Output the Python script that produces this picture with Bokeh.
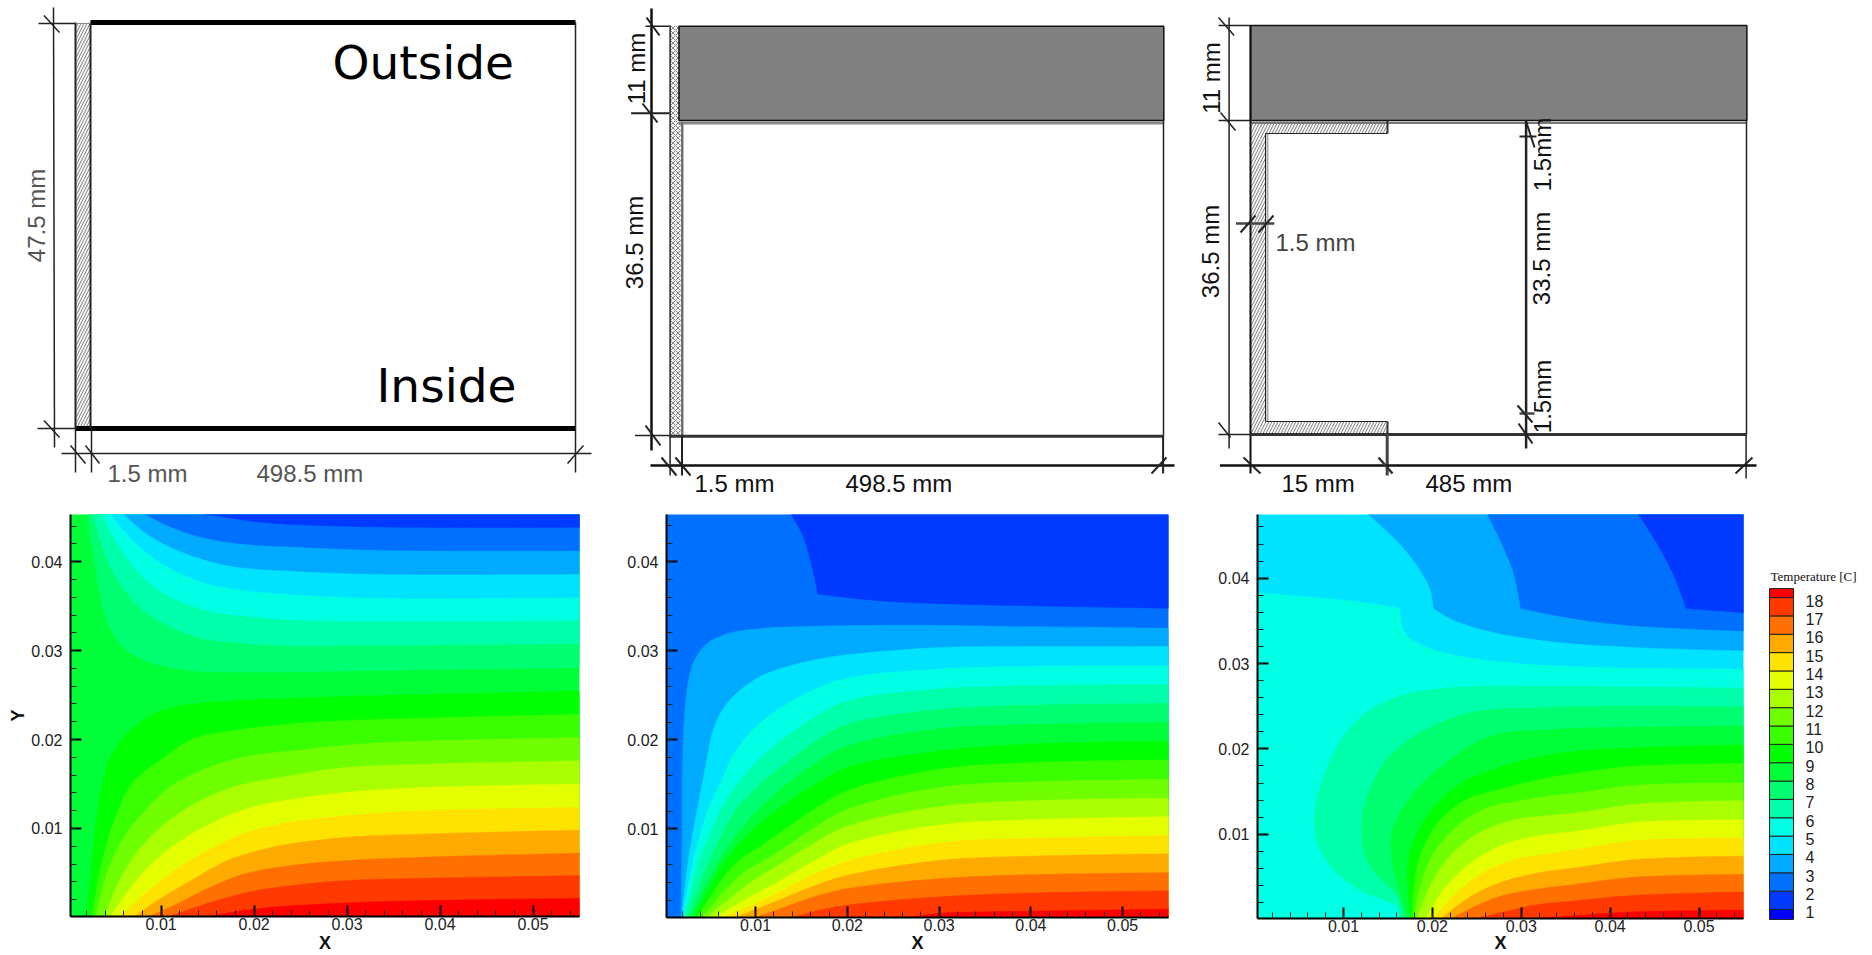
from math import pi, hypot
from bokeh.plotting import figure
from bokeh.layouts import row, column
from bokeh.models import Range1d, FixedTicker, ColumnDataSource
from bokeh.core.properties import value
from bokeh.embed import file_html
from bokeh.resources import INLINE

# ---------- colour bands: band_colors[n] fills temperatures from n to n+1 ----------
band_colors = ["#0000ff", "#0039ff", "#0070ff", "#00aaff", "#00e3ff", "#00ffe3", "#00ffaa",
               "#00ff70", "#00ff39", "#00ff00", "#39ff00", "#70ff00", "#aaff00", "#e3ff00",
               "#ffe300", "#ffaa00", "#ff7000", "#ff3900", "#ff0000"]
legend_levels = list(range(1, 19))
legend_title = "Temperature [C]"

x_major = [0.01, 0.02, 0.03, 0.04, 0.05]
x_labels = ["0.01", "0.02", "0.03", "0.04", "0.05"]
y_major = [0.01, 0.02, 0.03, 0.04]
y_labels = ["0.01", "0.02", "0.03", "0.04"]
x_minor = [i * 0.002 for i in range(1, 28)]
y_minor = [i * 0.002 for i in range(1, 24)]

# ---------- panel 1, isotherms in mm ----------
p1_l2_x = [14.62, 16.95, 19.82, 23.4, 33.9, 55]
p1_l2_y = [45.3, 45.0, 44.53, 44.23, 43.9, 43.86]
p1_l3_x = [8.35, 10.5, 13.37, 16.6, 19.82, 23.4, 33.9, 55]
p1_l3_y = [45.3, 44.15, 43.03, 42.28, 41.9, 41.72, 41.3, 41.24]
p1_l4_x = [6.02, 8.35, 10.86, 14.08, 17.67, 23.4, 33.9, 55]
p1_l4_y = [45.3, 43.22, 41.72, 40.41, 39.48, 38.99, 38.6, 38.62]
p1_l5_x = [4.58, 6.56, 8.7, 11.57, 14.8, 18.38, 23.4, 33.9, 55]
p1_l5_y = [45.3, 42.84, 40.79, 38.92, 37.6, 36.86, 36.37, 35.9, 36.0]
p1_l6_x = [3.62, 4.94, 6.56, 8.7, 11.57, 15.16, 19.1, 23.4, 33.9, 55]
p1_l6_y = [45.3, 42.66, 40.04, 37.6, 35.74, 34.43, 33.87, 33.49, 33.3, 33.38]
p1_l7_x = [2.68, 3.51, 4.58, 6.02, 7.99, 10.5, 14.08, 18.38, 23.4, 33.9, 55]
p1_l7_y = [45.3, 42.28, 39.29, 36.86, 34.61, 32.93, 31.43, 30.87, 30.57, 30.6, 30.76]
p1_l8_x = [2.07, 2.43, 2.97, 3.51, 4.2, 5.12, 6.38, 8.35, 11.2, 13.7, 21.5, 33.9, 55]
p1_l8_y = [45.3, 42.66, 38.92, 35.93, 33.31, 31.44, 29.94, 28.82, 28.07, 27.7, 27.58, 27.77, 28.07]
p1_l9_x = [1.97, 2.43, 2.97, 3.69, 4.4, 6.3, 9.18, 12.06, 17.41, 25.64, 33.87, 55]
p1_l9_y = [0.1, 5.0, 10.24, 15.1, 17.72, 20.59, 22.83, 23.77, 24.33, 24.7, 24.96, 25.45]
p1_l10_x = [2.54, 3.69, 5.12, 6.91, 9.96, 13.29, 17.41, 25.64, 33.87, 55]
p1_l10_y = [0.1, 6.5, 11.36, 15.1, 17.72, 20.03, 20.96, 21.9, 22.27, 22.83]
p1_l11_x = [2.97, 4.2, 5.84, 8.35, 11.57, 17.67, 25.64, 33.87, 55]
p1_l11_y = [0.1, 5.0, 8.74, 12.11, 15.1, 17.72, 18.9, 19.65, 20.21]
p1_l12_x = [3.87, 5.48, 7.63, 10.5, 14.08, 18.03, 23.4, 29.75, 37.98, 55]
p1_l12_y = [0.1, 4.07, 7.62, 10.61, 13.04, 14.73, 15.85, 16.85, 17.22, 17.6]
p1_l13_x = [4.58, 6.56, 9.06, 12.29, 15.9, 19.46, 23.4, 29.75, 37.98, 55]
p1_l13_y = [0.1, 3.13, 6.12, 8.74, 10.8, 12.3, 13.16, 14.04, 14.6, 14.98]
p1_l14_x = [5.66, 8.35, 11.57, 15.16, 19.1, 23.4, 29.75, 37.98, 55]
p1_l14_y = [0.1, 2.76, 5.37, 7.62, 9.49, 10.61, 11.42, 11.98, 12.36]
p1_l15_x = [7.09, 9.78, 13.4, 16.95, 20.17, 23.4, 29.75, 37.98, 55]
p1_l15_y = [0.1, 2.0, 4.25, 6.31, 7.43, 8.18, 8.99, 9.36, 9.81]
p1_l16_x = [8.7, 11.93, 15.16, 18.74, 23.4, 29.75, 37.98, 55]
p1_l16_y = [0.1, 1.63, 3.32, 4.81, 5.75, 6.37, 6.75, 7.23]
p1_l17_x = [10.86, 14.08, 17.67, 20.9, 23.4, 29.75, 37.98, 55]
p1_l17_y = [0.1, 1.26, 2.38, 3.13, 3.5, 4.13, 4.39, 4.69]
p1_l18_x = [15.16, 18.38, 21.25, 23.4, 29.75, 37.98, 55]
p1_l18_y = [0.1, 0.7, 1.07, 1.26, 1.62, 1.88, 2.14]

# ---------- panel 2, isotherms in mm ----------
p2_l2_x = [13.89, 15.07, 16.07, 16.78, 19.83, 24.99, 32.91, 38.86, 55]
p2_l2_y = [45.28, 43.12, 39.78, 36.36, 35.98, 35.5, 35.2, 35.06, 34.76]
p2_l3_x = [1.87, 2.0, 2.07, 2.59, 3.38, 4.77, 7.15, 9.92, 15.07, 26.97, 38.86, 55]
p2_l3_y = [0.07, 10.0, 18.96, 26.02, 29.0, 30.85, 31.97, 32.42, 32.71, 32.86, 32.71, 32.53]
p2_l4_x = [1.94, 2.7, 3.79, 4.7, 5.3, 6.3, 8.0, 10.32, 12.73, 16.36, 20, 30, 40, 55]
p2_l4_y = [0.07, 6.69, 13.01, 17.84, 20.82, 23.2, 25.3, 27.0, 28.0, 28.95, 29.54, 30.35, 30.47, 30.47]
p2_l5_x = [2.08, 3.25, 4.88, 6.52, 7.3, 8.73, 10.71, 12.73, 16.36, 20, 30, 40, 55]
p2_l5_y = [0.07, 6.69, 12.26, 15.98, 17.84, 20.0, 22.1, 23.58, 25.63, 26.93, 27.94, 28.23, 28.31]
p2_l6_x = [2.23, 3.97, 6.52, 8.33, 10.0, 12.73, 16.36, 20, 30, 40, 55]
p2_l6_y = [0.07, 6.69, 12.64, 15.4, 17.4, 19.86, 22.47, 24.33, 25.7, 26.08, 26.19]
p2_l7_x = [2.52, 5.06, 7.97, 10.5, 12.73, 16.36, 20, 30, 40, 55]
p2_l7_y = [0.07, 6.69, 12.26, 15.0, 16.89, 19.68, 21.72, 23.4, 23.88, 24.07]
p2_l8_x = [2.88, 6.15, 9.42, 12.73, 16.36, 20, 30, 40, 55]
p2_l8_y = [0.07, 6.69, 11.2, 14.47, 17.26, 19.31, 21.24, 21.72, 21.98]
p2_l9_x = [3.25, 6.88, 10.0, 12.73, 16.36, 20, 30, 40, 55]
p2_l9_y = [0.07, 6.69, 10.2, 12.42, 14.92, 16.89, 18.75, 19.53, 19.86]
p2_l10_x = [3.61, 7.61, 10.88, 12.73, 16.36, 20, 30, 40, 55]
p2_l10_y = [0.07, 5.94, 8.3, 9.63, 12.2, 14.3, 16.7, 17.45, 17.74]
p2_l11_x = [4.15, 8.33, 11.0, 12.73, 16.36, 20, 30, 40, 55]
p2_l11_y = [0.07, 4.83, 6.5, 7.59, 10.1, 12.2, 14.65, 15.29, 15.58]
p2_l12_x = [4.7, 9.06, 12.73, 16.36, 20, 30, 40, 55]
p2_l12_y = [0.07, 3.71, 6.1, 8.4, 10.3, 12.5, 13.17, 13.46]
p2_l13_x = [5.43, 10.15, 12.73, 16.36, 20, 30, 40, 55]
p2_l13_y = [0.07, 2.8, 4.24, 6.4, 8.3, 10.45, 11.05, 11.38]
p2_l14_x = [6.52, 11.24, 12.73, 16.36, 20, 30, 40, 55]
p2_l14_y = [0.07, 2.2, 3.0, 4.9, 6.4, 8.44, 8.96, 9.26]
p2_l15_x = [7.79, 12.73, 16.36, 20, 30, 40, 55]
p2_l15_y = [0.07, 2.1, 3.6, 4.8, 6.47, 6.95, 7.21]
p2_l16_x = [9.97, 12.73, 16.36, 20, 30, 40, 55]
p2_l16_y = [0.07, 1.08, 2.38, 3.31, 4.42, 4.87, 5.09]
p2_l17_x = [13.89, 16.36, 20, 30, 40, 55]
p2_l17_y = [0.03, 0.75, 1.45, 2.38, 2.82, 3.05]
p2_l18_x = [26.5, 30, 40, 55]
p2_l18_y = [0.03, 0.52, 0.78, 1.0]

# ---------- panel 3, isotherms in mm ----------
p3_l2_x = [43.18, 45.28, 47.15, 48.55, 55]
p3_l2_y = [47.47, 44.05, 40.35, 36.47, 35.96]
p3_l3_x = [26.21, 27.99, 29.16, 29.95, 33.6, 38.27, 42.94, 55]
p3_l3_y = [47.47, 43.66, 40.55, 36.47, 35.69, 34.91, 34.41, 33.82]
p3_l4_x = [12.8, 16.31, 18.64, 19.81, 20.14, 22.38, 26.59, 33.6, 42.94, 55]
p3_l4_y = [47.47, 44.05, 40.94, 38.6, 36.47, 35.11, 33.75, 32.58, 31.92, 31.53]
p3_l5_x = [0.33, 5.56, 11.64, 16.31, 16.54, 17.24, 19.58, 23.32, 28.93, 38.27, 55]
p3_l5_y = [38.29, 37.83, 37.24, 36.47, 34.33, 33.16, 31.8, 30.83, 30.05, 29.55, 29.35]
p3_l6_x = [16.37, 16.07, 14.2, 11.95, 8.83, 7.2, 6.73, 7.43, 9.77, 12.57, 16.31, 21.92, 33.6, 55]
p3_l6_y = [0.2, 1.68, 2.46, 3.43, 5.96, 8.68, 11.4, 15.67, 21.12, 24.22, 26.17, 27.14, 27.33, 27.1]
p3_l7_x = [16.64, 16.26, 12.71, 12.06, 12.57, 14.91, 18.64, 24.25, 31.26, 42.94, 55]
p3_l7_y = [0.2, 2.46, 6.74, 11.01, 14.12, 18.78, 21.89, 24.22, 24.81, 25.0, 24.92]
p3_l8_x = [17.2, 16.07, 15.33, 15.7, 17.94, 22.06, 26.59, 33.6, 42.94, 55]
p3_l8_y = [0.2, 4.01, 8.29, 11.0, 14.9, 18.78, 21.5, 22.28, 22.55, 22.67]
p3_l9_x = [17.57, 17.19, 17.57, 19.44, 22.81, 26.93, 33.6, 42.94, 55]
p3_l9_y = [0.2, 5.18, 8.29, 12.17, 15.67, 17.61, 19.37, 20.14, 20.45]
p3_l10_x = [17.76, 17.87, 18.5, 20.38, 23.56, 27.68, 32.17, 36.67, 42.94, 55]
p3_l10_y = [0.2, 3.23, 7.12, 11.01, 13.92, 15.28, 16.45, 17.23, 18.0, 18.28]
p3_l11_x = [17.94, 18.69, 20.0, 22.44, 25.81, 29.93, 33.3, 36.67, 42.94, 55]
p3_l11_y = [0.2, 4.01, 7.51, 10.62, 12.95, 13.92, 14.5, 14.89, 15.75, 15.99]
p3_l12_x = [18.32, 19.8, 22.06, 25.06, 28.8, 32.92, 36.67, 42.94, 55]
p3_l12_y = [0.2, 4.01, 7.51, 10.03, 11.59, 12.17, 12.56, 13.54, 13.93]
p3_l13_x = [19.25, 21.31, 23.94, 27.3, 31.05, 36.67, 42.94, 55]
p3_l13_y = [0.2, 3.62, 6.34, 8.48, 9.65, 10.42, 11.4, 11.71]
p3_l14_x = [20.19, 22.81, 25.81, 29.55, 32.92, 36.67, 42.94, 55]
p3_l14_y = [0.2, 3.23, 5.57, 7.12, 7.7, 8.29, 9.26, 9.57]
p3_l15_x = [21.13, 23.94, 27.3, 31.43, 36.67, 42.94, 55]
p3_l15_y = [0.2, 2.46, 4.21, 5.37, 6.15, 7.05, 7.43]
p3_l16_x = [22.25, 25.06, 28.05, 32.17, 36.67, 42.94, 55]
p3_l16_y = [0.2, 1.68, 2.85, 3.62, 4.21, 4.99, 5.3]
p3_l17_x = [25.06, 28.05, 31.43, 36.67, 42.94, 55]
p3_l17_y = [0.2, 0.9, 1.68, 2.26, 2.85, 3.24]
p3_l18_x = [31.43, 34.42, 36.67, 42.94, 55]
p3_l18_y = [0.2, 0.32, 0.51, 0.91, 1.1]

# indices of the points where an isotherm has a real corner
sharp_points = {("p2", 2): [3], ("p3", 2): [3], ("p3", 3): [3], ("p3", 4): [4], ("p3", 5): [3, 4],
                ("p3", 6): [1]}

# ---------- schematics: (x0, y0, x1, y1, width, colour) in drawing units ----------
INK = "#222222"
sch1_lines = [
    (90, 22, 575, 22, 5, "#000000"), (75, 428, 575, 428, 5, "#000000"),
    (75, 22, 75, 428, 2, "#222222"), (90, 22, 90, 428, 2, "#222222"),
    (75, 23, 90, 23, 1, "#888888"), (575, 22, 575, 428, 1.5, INK),
    (53, 7, 54, 447, 1.5, INK), (38, 23, 75, 23, 1.5, INK), (37, 428, 75, 428, 1.5, INK),
    (43.5, 15, 59, 32, 1.5, INK), (43.5, 420, 59, 437, 1.5, INK),
    (61, 453, 591, 453, 1.5, INK), (75, 428, 75, 472, 1.5, INK), (91, 428, 91, 472, 1.5, INK),
    (575, 428, 575, 472, 1.5, INK), (70, 445, 85, 463, 1.5, INK), (85, 445, 99, 463, 1.5, INK),
    (567, 463, 583, 445, 1.5, INK),
]
sch1_texts = [("1.5 mm", 107, 473), ("498.5 mm", 256, 473)]
sch1_rot = [("47.5 mm", 36, 215)]
sch1_big = [("Outside", 332, 62), ("Inside", 376, 385)]

sch2_lines = [
    (682.5, 122, 682.5, 435, 2, "#bbbbbb"), (678, 122.5, 1163, 122.5, 3, "#888888"),
    (669.6, 25, 669.6, 435, 1.5, INK), (681.5, 122, 681.5, 435, 1.5, "#555555"),
    (1163, 120, 1163, 435, 1.5, INK), (669, 435.7, 1163, 435.7, 3, "#333333"),
    (651, 8, 651, 450, 2.5, "#111111"), (645, 25.7, 669, 25.7, 1.5, INK),
    (630.6, 112.7, 669, 112.7, 2, INK), (634.4, 435, 669, 435, 1.5, INK),
    (646, 17, 659, 35, 2, INK), (642, 103, 657, 122, 2, INK), (645, 425, 660, 445, 2, INK),
    (650, 465, 1174, 465, 2.5, "#111111"), (669.6, 435, 669.6, 475, 1.5, INK),
    (681.5, 435, 681.5, 475, 2, INK), (1162.6, 435, 1162.6, 473, 2, INK),
    (661, 457, 676, 475, 2, INK), (675, 457, 690, 475, 2, INK), (1151, 473, 1166, 457, 2, INK),
]
sch2_texts = [("1.5 mm", 694, 483), ("498.5 mm", 845, 483)]
sch2_rot = [("11 mm", 636, 68), ("36.5 mm", 634, 242)]

sch3_lines = [
    (1250, 122.5, 1746, 122.5, 2, "#777777"), (1267, 133, 1267, 421, 2, "#aaaaaa"),
    (1250, 25, 1250, 473, 2, "#111111"), (1746, 120, 1746, 434, 1.5, INK),
    (1250, 434, 1746, 434, 3, "#333333"), (1265, 133, 1387, 133, 1, INK),
    (1265, 421, 1387, 421, 1, INK), (1265, 133, 1265, 421, 1, INK),
    (1387, 120, 1387, 133, 2, "#333333"), (1387, 421, 1387, 434, 2, "#333333"),
    (1228.6, 17, 1228.6, 448, 1.5, INK), (1218, 25, 1250, 25, 1.5, INK),
    (1218, 120, 1250, 120, 1.5, INK), (1218, 434, 1250, 434, 1.5, INK),
    (1218, 17, 1233.6, 35, 1.5, INK), (1220, 112, 1235, 130, 1.5, INK), (1218, 422, 1230, 437, 1.5, INK),
    (1386.7, 434, 1386.7, 475, 3, "#444444"), (1745.6, 434, 1745.6, 478, 1.5, INK),
    (1219.4, 465, 1756, 465, 2.5, "#111111"), (1243, 457, 1260, 473, 2, INK),
    (1378, 457, 1392, 473, 2.5, "#333333"), (1735, 473, 1752, 457, 2, INK),
    (1525.6, 120, 1525.6, 448, 2.5, INK), (1519, 136, 1536, 136, 2, INK), (1526, 122, 1534, 147, 2, INK),
    (1519, 413, 1534, 413, 2.5, "#444444"), (1517, 405, 1532, 422, 2, INK), (1518, 423, 1532, 443, 2, INK),
    (1235.5, 223, 1273.8, 223, 2.5, "#444444"), (1240, 232, 1255, 215, 2, INK), (1258, 232, 1273, 215, 2, INK),
]
sch3_texts = [("15 mm", 1281, 483), ("485 mm", 1425, 483)]
sch3_thin = [("1.5 mm", 1275, 242)]
sch3_rot = [("11 mm", 1210.6, 77.5), ("36.5 mm", 1210, 251), ("1.5mm", 1541.6, 154),
            ("33.5 mm", 1541, 258), ("1.5mm", 1541.6, 396)]

c3_x = [1250, 1387, 1387, 1265, 1265, 1387, 1387, 1250]
c3_y = [120, 120, 133, 133, 421, 421, 434, 434]

# ---------- page cells ----------
TOP_H, BOT_H = 500, 455
CELL_X = [0, 610, 1195, 1756, 1872]
SANS, SERIF, WIDE = "Liberation Sans", "Liberation Serif", "DejaVu Sans"
NUM = "16px"


def sketch(x0, x1):
    p = figure(width=x1 - x0, height=TOP_H, x_range=Range1d(x0, x1), y_range=Range1d(TOP_H, 0),
               x_axis_location=None, y_axis_location=None, toolbar_location=None,
               output_backend="svg", min_border=0, outline_line_color=None)
    p.grid.visible = False
    return p


def put_lines(p, rows):
    c = list(zip(*rows))
    src = ColumnDataSource(dict(x0=c[0], y0=c[1], x1=c[2], y1=c[3], w=c[4], col=c[5]))
    p.segment("x0", "y0", "x1", "y1", line_width="w", line_color="col", source=src)


def put_text(p, rows, size="24px", color="#111111", angle=0.0, align="left", font=SANS):
    c = list(zip(*rows))
    p.text(list(c[1]), list(c[2]), text=list(c[0]), text_font=value(font), text_font_size=value(size),
           text_color=color, angle=angle, text_align=align, text_baseline="middle")


s1 = sketch(CELL_X[0], CELL_X[1])
s1.quad(left=[76], right=[89.5], top=[23], bottom=[426], fill_color="#f4f4f4", line_color=None,
        hatch_pattern="right_diagonal_line", hatch_color="#888888", hatch_scale=6, hatch_weight=1)
put_lines(s1, sch1_lines)
put_text(s1, sch1_texts, color="#555555")
put_text(s1, sch1_rot, color="#555555", angle=pi / 2, align="center")
put_text(s1, sch1_big, size="47px", color="#000000", font=WIDE)

s2 = sketch(CELL_X[1], CELL_X[2])
s2.quad(left=[670, 670], right=[678.5, 681.5], top=[25, 122], bottom=[122, 435], fill_color="#f4f4f4",
        line_color=None, hatch_pattern="diagonal_cross", hatch_color="#888888", hatch_scale=5, hatch_weight=1)
s2.quad(left=[678.5], right=[1163.3], top=[25.7], bottom=[120], fill_color="#808080", line_color="#111111",
        line_width=1.5)
put_lines(s2, sch2_lines)
put_text(s2, sch2_texts)
put_text(s2, sch2_rot, angle=pi / 2, align="center")

s3 = sketch(CELL_X[2], CELL_X[4])
s3.patch(c3_x, c3_y, fill_color="#f4f4f4", line_color=None, hatch_pattern="right_diagonal_line",
         hatch_color="#888888", hatch_scale=6, hatch_weight=1)
s3.quad(left=[1250], right=[1746.4], top=[25], bottom=[120], fill_color="#808080", line_color="#111111",
        line_width=1.5)
put_lines(s3, sch3_lines)
put_text(s3, sch3_texts)
put_text(s3, sch3_thin, color="#444444")
put_text(s3, sch3_rot, angle=pi / 2, align="center")


def curve_piece(xs, ys, steps=10):
    """Draw a read isotherm as a centripetal spline through its read points."""
    pts = list(zip(xs, ys))
    if len(pts) < 3:
        return list(xs), list(ys)
    pts = [pts[0]] + pts + [pts[-1]]
    ox, oy = [], []
    for i in range(1, len(pts) - 2):
        p0, p1, p2, p3 = pts[i - 1], pts[i], pts[i + 1], pts[i + 2]
        t0 = 0.0
        t1 = t0 + max(hypot(p1[0] - p0[0], p1[1] - p0[1]) ** 0.5, 1e-6)
        t2 = t1 + max(hypot(p2[0] - p1[0], p2[1] - p1[1]) ** 0.5, 1e-6)
        t3 = t2 + max(hypot(p3[0] - p2[0], p3[1] - p2[1]) ** 0.5, 1e-6)
        for k in range(steps):
            t = t1 + (t2 - t1) * k / steps
            out = []
            for d in (0, 1):
                a1 = ((t1 - t) * p0[d] + (t - t0) * p1[d]) / (t1 - t0)
                a2 = ((t2 - t) * p1[d] + (t - t1) * p2[d]) / (t2 - t1)
                a3 = ((t3 - t) * p2[d] + (t - t2) * p3[d]) / (t3 - t2)
                b1 = ((t2 - t) * a1 + (t - t0) * a2) / (t2 - t0)
                b2 = ((t3 - t) * a2 + (t - t1) * a3) / (t3 - t1)
                out.append(((t2 - t) * b1 + (t - t1) * b2) / (t2 - t1))
            ox.append(out[0])
            oy.append(out[1])
    ox.append(xs[-1])
    oy.append(ys[-1])
    return ox, oy


def curve(tag, lv):
    xs, ys = globals()[f"{tag}_l{lv}_x"], globals()[f"{tag}_l{lv}_y"]
    cuts = [0] + sharp_points.get((tag, lv), []) + [len(xs) - 1]
    ox, oy = [], []
    for a, b in zip(cuts[:-1], cuts[1:]):
        px, py = curve_piece(xs[a:b + 1], ys[a:b + 1])
        ox += px
        oy += py
    return ox, oy


def panel(tag, cell, borders, xr, yr, base, upper, lower, left_start=(), x_stand=-5, y_label=None):
    left, right, top, bottom = borders
    p = figure(width=CELL_X[cell + 1] - CELL_X[cell], height=BOT_H, x_range=Range1d(*xr), y_range=Range1d(*yr),
               toolbar_location=None, output_backend="svg", min_border_left=left, min_border_right=right,
               min_border_top=top, min_border_bottom=bottom, outline_line_color=None,
               background_fill_color=band_colors[base])
    p.grid.visible = False
    for lv in upper:
        xs, ys = curve(tag, lv)
        px = xs + [60, 60, xs[0]]
        py = ys + [ys[-1], 60, 60]
        p.patch([v / 1000 for v in px], [v / 1000 for v in py], fill_color=band_colors[lv - 1],
                line_color=band_colors[lv - 1], line_width=0.5)
    for lv in lower:
        xs, ys = curve(tag, lv)
        if lv in left_start:
            px = xs + [60, 60, -5, -5]
            py = ys + [ys[-1], -5, -5, ys[0]]
        else:
            px = xs + [60, 60, xs[0]]
            py = ys + [ys[-1], -5, -5]
        p.patch([v / 1000 for v in px], [v / 1000 for v in py], fill_color=band_colors[lv],
                line_color=band_colors[lv], line_width=0.5)
    for ax, maj, lab, mnr, stand in ((p.xaxis[0], x_major, x_labels, x_minor, 1),
                                     (p.yaxis[0], y_major, y_labels, y_minor, 8)):
        ax.ticker = FixedTicker(ticks=maj, minor_ticks=mnr)
        ax.major_label_overrides = dict(zip(maj, lab))
        ax.axis_line_color = "#000000"
        ax.axis_line_width = 2
        ax.major_tick_in = 11
        ax.major_tick_out = 0
        ax.minor_tick_in = 6
        ax.minor_tick_out = 0
        ax.major_tick_line_width = 2
        ax.major_tick_line_color = "#000000"
        ax.minor_tick_line_width = 1
        ax.minor_tick_line_color = "#222222"
        ax.major_label_text_font = SANS
        ax.major_label_text_font_size = NUM
        ax.major_label_text_color = "#222222"
        ax.major_label_standoff = stand
        ax.axis_label_text_font = SANS
        ax.axis_label_text_font_size = "18px"
        ax.axis_label_text_font_style = "bold"
        ax.axis_label_text_color = "#111111"
    p.xaxis[0].axis_label = "X"
    p.xaxis[0].axis_label_standoff = x_stand
    p.xaxis[0].axis_label_text_line_height = 0.6
    if y_label:
        p.yaxis[0].axis_label = y_label
        p.yaxis[0].axis_label_standoff = 0
    return p


c1 = panel("p1", 0, (70, 31, 14, 38), (0.00025, 0.055), (0.0001, 0.0453), 8,
           [8, 7, 6, 5, 4, 3, 2], list(range(9, 19)), x_stand=0, y_label="Y")
c2 = panel("p2", 1, (56, 27, 14, 36), (0.00029, 0.055), (0.00007, 0.04528), 2,
           [2], list(range(3, 19)), x_stand=-1)
c3 = panel("p3", 2, (62, 13, 14, 35), (0.00033, 0.055), (0.00013, 0.04746), 4,
           [4, 3, 2], list(range(5, 19)), left_start=(5,), x_stand=-2)

# ---------- legend ----------
leg = figure(width=CELL_X[4] - CELL_X[3], height=BOT_H, x_range=Range1d(CELL_X[3], CELL_X[4]),
             y_range=Range1d(-1.507, 23.29), x_axis_location=None, y_axis_location=None,
             toolbar_location=None, output_backend="svg", min_border=0, outline_line_color=None)
leg.grid.visible = False
leg_edges = [0.455] + legend_levels + [18.49]
leg.quad(left=1769, right=1793, bottom=leg_edges[:-1], top=leg_edges[1:], fill_color=band_colors,
         line_color="#222222", line_width=1)
leg.text([1805] * len(legend_levels), [v - 0.16 for v in legend_levels], text=[str(v) for v in legend_levels],
         text_font=value(SANS), text_font_size=value(NUM), text_color="#222222", text_baseline="middle")
leg.text([1770], [19.14], text=[legend_title], text_font=value(SERIF), text_font_size=value("13px"),
         text_color="#111111", text_baseline="middle")

page = column(row(s1, s2, s3), row(column(c1), column(c2), column(c3), column(leg)))
open("out.html", "w").write(file_html(page, INLINE))
